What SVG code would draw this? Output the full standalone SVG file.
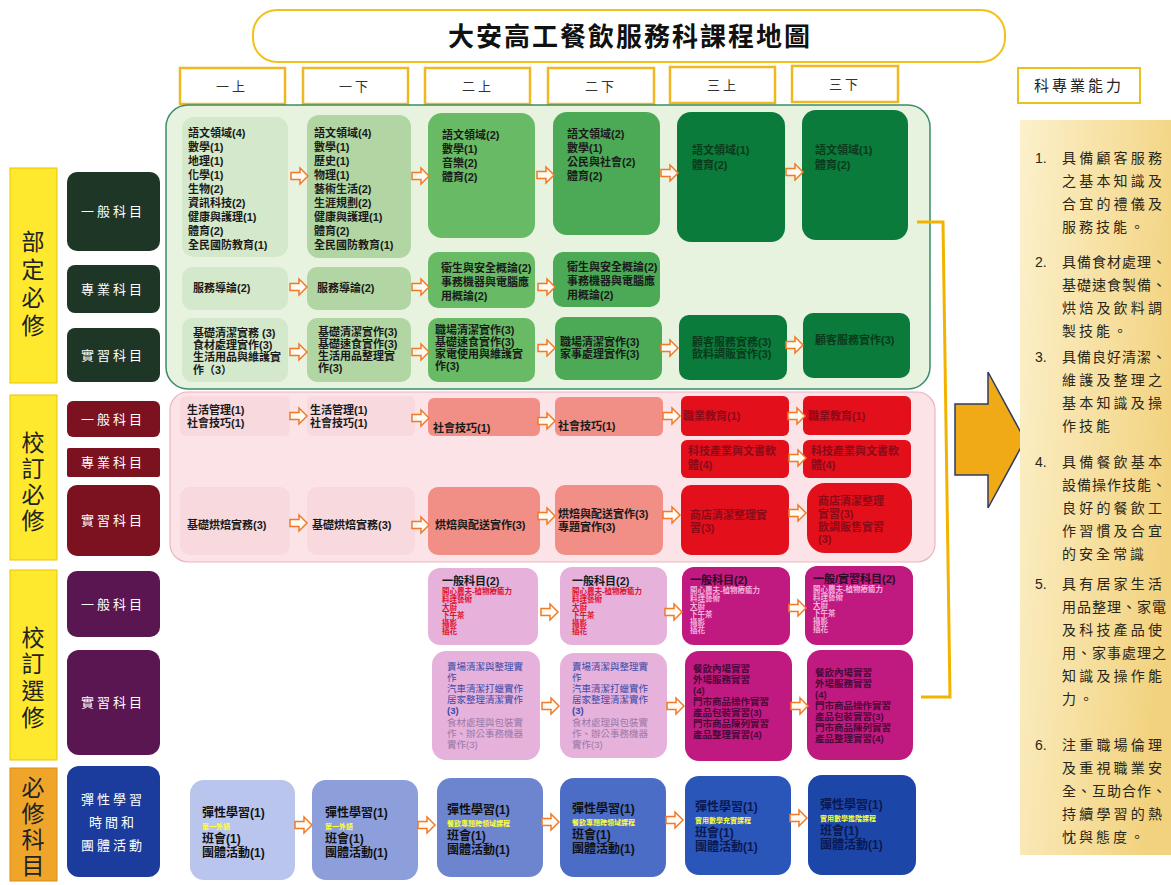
<svg xmlns="http://www.w3.org/2000/svg" xmlns:xlink="http://www.w3.org/1999/xlink" width="1171" height="885" viewBox="0 0 1171 885">
<defs>
<style>
text{font-family:"Liberation Sans","Noto Sans CJK TC",sans-serif;}
.cjk{font-family:"Noto Sans CJK TC",sans-serif;}
.hd{fill:#fff;stroke:#f0b820;stroke-width:2.5;}
.hdt{font-size:13px;fill:#333;text-anchor:middle;letter-spacing:3px;}
.vl{fill:#ffe92e;stroke:#e9c400;stroke-width:1;}
.vlt{font-size:23px;fill:#222;text-anchor:middle;}
.lb{font-size:13px;fill:#fff;text-anchor:middle;letter-spacing:3px;}
.b{font-size:11px;font-weight:bold;fill:#1a1a1a;}
.bd5{font-size:11px;font-weight:bold;fill:#0a3a1c;}
.rd{font-size:11px;font-weight:bold;fill:#8a0a18;}
.pt{font-size:7.5px;fill:#e0102a;font-weight:bold;}
.pl{font-size:7.5px;fill:#f6b0dc;font-weight:bold;}
.pb{font-size:9.5px;fill:#3b4aa8;}
.pg{font-size:9.5px;fill:#9a78a8;}
.pd{font-size:9.5px;fill:#4a0838;font-weight:bold;}
.bl{font-size:12px;font-weight:bold;fill:#111;}
.bln{font-size:12px;font-weight:bold;fill:#0a1850;}
.yl{font-size:7px;font-weight:bold;fill:#ffff3a;}
.rp{font-size:14px;fill:#2a2618;}
</style>
<path id="arr" d="M0,-3.5 H9 V-8 L17,0 L9,8 V3.5 H0 Z" fill="#fffaf2" stroke="#f07a28" stroke-width="1.5" stroke-linejoin="miter"/>
<linearGradient id="gold" x1="0" y1="0" x2="1" y2="0.3">
<stop offset="0" stop-color="#fcf1cc"/>
<stop offset="1" stop-color="#f2d27e"/>
</linearGradient>
</defs>
<rect width="1171" height="885" fill="#fff"/>

<g id="title">
<rect x="253" y="10" width="752" height="52" rx="24" fill="#fff" stroke="#f2c21c" stroke-width="2"/>
<text x="630" y="46" class="cjk" font-size="26" font-weight="bold" fill="#111" text-anchor="middle" letter-spacing="2">大安高工餐飲服務科課程地圖</text>
</g>

<g id="headers">
<rect class="hd" x="180" y="68" width="105" height="36"/><text class="hdt" x="232" y="91">一上</text>
<rect class="hd" x="303" y="68" width="105" height="36"/><text class="hdt" x="355" y="91">一下</text>
<rect class="hd" x="425" y="68" width="105" height="36"/><text class="hdt" x="478" y="91">二上</text>
<rect class="hd" x="548" y="68" width="106" height="36"/><text class="hdt" x="601" y="91">二下</text>
<rect class="hd" x="670" y="67" width="105" height="36"/><text class="hdt" x="723" y="90">三上</text>
<rect class="hd" x="792" y="66" width="106" height="36"/><text class="hdt" x="845" y="89">三下</text>
</g>

<g id="row-labels">
<rect class="vl" x="10" y="168" width="47" height="215"/>
<text class="vlt" x="33" y="250">部</text><text class="vlt" x="33" y="278">定</text><text class="vlt" x="33" y="306">必</text><text class="vlt" x="33" y="334">修</text>
<rect class="vl" x="10" y="395" width="47" height="165"/>
<text class="vlt" x="33" y="451">校</text><text class="vlt" x="33" y="477">訂</text><text class="vlt" x="33" y="503">必</text><text class="vlt" x="33" y="529">修</text>
<rect class="vl" x="10" y="570" width="47" height="190"/>
<text class="vlt" x="33" y="646">校</text><text class="vlt" x="33" y="672">訂</text><text class="vlt" x="33" y="699">選</text><text class="vlt" x="33" y="726">修</text>
<rect x="10" y="768" width="47" height="113" fill="#eea52a" stroke="#d98c10" stroke-width="1"/>
<text class="vlt" x="33" y="796">必</text><text class="vlt" x="33" y="822">修</text><text class="vlt" x="33" y="848">科</text><text class="vlt" x="33" y="874">目</text>

<rect x="67" y="172" width="93" height="79" rx="10" fill="#1e3626"/><text class="lb" x="113" y="216">一般科目</text>
<rect x="67" y="265" width="93" height="48" rx="8" fill="#1e3626"/><text class="lb" x="113" y="294">專業科目</text>
<rect x="67" y="328" width="93" height="54" rx="8" fill="#1e3626"/><text class="lb" x="113" y="360">實習科目</text>
<rect x="67" y="401" width="93" height="36" rx="6" fill="#7c1220"/><text class="lb" x="113" y="424">一般科目</text>
<rect x="67" y="448" width="93" height="29" rx="2" fill="#7c1220"/><text class="lb" x="113" y="467">專業科目</text>
<rect x="67" y="485" width="93" height="71" rx="10" fill="#7c1220"/><text class="lb" x="113" y="525">實習科目</text>
<rect x="67" y="571" width="93" height="66" rx="10" fill="#5a1650"/><text class="lb" x="113" y="609">一般科目</text>
<rect x="67" y="650" width="93" height="105" rx="12" fill="#5a1650"/><text class="lb" x="113" y="707">實習科目</text>
<rect x="67" y="766" width="93" height="111" rx="12" fill="#1b3c9c"/>
<text class="lb" x="113" y="804">彈性學習</text><text class="lb" x="113" y="827">時間和</text><text class="lb" x="113" y="850">團體活動</text>
</g>

<g id="group-bodingbixiu">
<rect x="166" y="105" width="764" height="284" rx="22" fill="#e7f3df" stroke="#3a8c6c" stroke-width="1.5"/>
</g>
<g id="group-xiaodingbixiu">
<rect x="170" y="392" width="765" height="170" rx="18" fill="#fbe3e7" stroke="#e9b6be" stroke-width="1.2"/>
</g>

<g id="g-gen-1"><rect x="182" y="117" width="106" height="140" rx="12" fill="#d4e9cb"/>
<text class="b" x="188" y="137">語文領域(4)</text><text class="b" x="188" y="151">數學(1)</text><text class="b" x="188" y="165">地理(1)</text><text class="b" x="188" y="179">化學(1)</text><text class="b" x="188" y="193">生物(2)</text><text class="b" x="188" y="207">資訊科技(2)</text><text class="b" x="188" y="221">健康與護理(1)</text><text class="b" x="188" y="235">體育(2)</text><text class="b" x="188" y="249">全民國防教育(1)</text></g>
<g id="g-gen-2"><rect x="307" y="115" width="104" height="143" rx="12" fill="#b1d6a3"/>
<text class="b" x="314" y="137">語文領域(4)</text><text class="b" x="314" y="151">數學(1)</text><text class="b" x="314" y="165">歷史(1)</text><text class="b" x="314" y="179">物理(1)</text><text class="b" x="314" y="193">藝術生活(2)</text><text class="b" x="314" y="207">生涯規劃(2)</text><text class="b" x="314" y="221">健康與護理(1)</text><text class="b" x="314" y="235">體育(2)</text><text class="b" x="314" y="249">全民國防教育(1)</text></g>
<g id="g-gen-3"><rect x="428" y="113" width="107" height="125" rx="14" fill="#69ba65"/>
<text class="b" x="442" y="139">語文領域(2)</text><text class="b" x="442" y="153">數學(1)</text><text class="b" x="442" y="167">音樂(2)</text><text class="b" x="442" y="181">體育(2)</text></g>
<g id="g-gen-4"><rect x="553" y="112" width="107" height="123" rx="14" fill="#4caa57"/>
<text class="b" x="567" y="138">語文領域(2)</text><text class="b" x="567" y="152">數學(1)</text><text class="b" x="567" y="166">公民與社會(2)</text><text class="b" x="567" y="180">體育(2)</text></g>
<g id="g-gen-5"><rect x="677" y="112" width="108" height="130" rx="14" fill="#0b7b3b"/>
<text class="bd5" x="692" y="154">語文領域(1)</text><text class="bd5" x="692" y="169">體育(2)</text></g>
<g id="g-gen-6"><rect x="802" y="110" width="106" height="130" rx="14" fill="#0b7b3b"/>
<text class="bd5" x="815" y="154">語文領域(1)</text><text class="bd5" x="815" y="169">體育(2)</text></g>

<g id="g-pro-1"><rect x="182" y="267" width="106" height="43" rx="10" fill="#d4e9cb"/><text class="b" x="193" y="292">服務導論(2)</text></g>
<g id="g-pro-2"><rect x="307" y="267" width="104" height="43" rx="10" fill="#b1d6a3"/><text class="b" x="317" y="292">服務導論(2)</text></g>
<g id="g-pro-3"><rect x="428" y="252" width="107" height="56" rx="10" fill="#69ba65"/>
<text class="b" x="441" y="272">衛生與安全概論(2)</text><text class="b" x="441" y="286">事務機器與電腦應</text><text class="b" x="441" y="300">用概論(2)</text></g>
<g id="g-pro-4"><rect x="553" y="252" width="107" height="55" rx="10" fill="#4caa57"/>
<text class="b" x="567" y="271">衛生與安全概論(2)</text><text class="b" x="567" y="285">事務機器與電腦應</text><text class="b" x="567" y="299">用概論(2)</text></g>

<g id="g-prac-1"><rect x="182" y="318" width="106" height="64" rx="10" fill="#d4e9cb"/>
<text class="b" x="193" y="337">基礎清潔實務 (3)</text><text class="b" x="193" y="349">食材處理實作(3)</text><text class="b" x="193" y="361">生活用品與維護實</text><text class="b" x="193" y="374">作（3）</text></g>
<g id="g-prac-2"><rect x="307" y="318" width="104" height="64" rx="10" fill="#b1d6a3"/>
<text class="b" x="318" y="336">基礎清潔實作(3)</text><text class="b" x="318" y="348">基礎速食實作(3)</text><text class="b" x="318" y="360">生活用品整理實</text><text class="b" x="318" y="372">作(3)</text></g>
<g id="g-prac-3"><rect x="428" y="318" width="107" height="64" rx="10" fill="#69ba65"/>
<text class="b" x="435" y="334">職場清潔實作(3)</text><text class="b" x="435" y="346">基礎速食實作(3)</text><text class="b" x="435" y="358">家電使用與維護實</text><text class="b" x="435" y="370">作(3)</text></g>
<g id="g-prac-4"><rect x="555" y="317" width="107" height="63" rx="10" fill="#4caa57"/>
<text class="b" x="560" y="346">職場清潔實作(3)</text><text class="b" x="560" y="358">家事處理實作(3)</text></g>
<g id="g-prac-5"><rect x="679" y="315" width="108" height="65" rx="10" fill="#0b7b3b"/>
<text class="bd5" x="692" y="346">顧客服務實務(3)</text><text class="bd5" x="692" y="358">飲料調販實作(3)</text></g>
<g id="g-prac-6"><rect x="803" y="313" width="107" height="65" rx="10" fill="#0b7b3b"/>
<text class="bd5" x="815" y="344">顧客服務實作(3)</text></g>

<g id="r-gen-1"><rect x="180" y="396" width="110" height="40" rx="6" fill="#f7d9de"/>
<text class="b" x="187" y="414">生活管理(1)</text><text class="b" x="187" y="427">社會技巧(1)</text></g>
<g id="r-gen-2"><rect x="307" y="396" width="108" height="40" rx="6" fill="#f7d9de"/>
<text class="b" x="310" y="414">生活管理(1)</text><text class="b" x="310" y="427">社會技巧(1)</text></g>
<g id="r-gen-3"><rect x="428" y="398" width="112" height="38" rx="6" fill="#f18f86"/><text class="b" x="433" y="432">社會技巧(1)</text></g>
<g id="r-gen-4"><rect x="555" y="397" width="108" height="39" rx="6" fill="#f18f86"/><text class="b" x="558" y="430">社會技巧(1)</text></g>
<g id="r-gen-5"><rect x="681" y="396" width="108" height="40" rx="6" fill="#e3101c"/><text class="rd" x="683" y="420">職業教育(1)</text></g>
<g id="r-gen-6"><rect x="803" y="396" width="108" height="39" rx="6" fill="#e3101c"/><text class="rd" x="808" y="420">職業教育(1)</text></g>
<g id="r-pro-5"><rect x="681" y="440" width="108" height="38" rx="6" fill="#e3101c"/>
<text class="rd" x="688" y="455">科技產業與文書軟</text><text class="rd" x="688" y="469">體(4)</text></g>
<g id="r-pro-6"><rect x="803" y="440" width="108" height="38" rx="6" fill="#e3101c"/>
<text class="rd" x="811" y="455">科技產業與文書軟</text><text class="rd" x="811" y="469">體(4)</text></g>
<g id="r-prac-1"><rect x="180" y="487" width="110" height="68" rx="10" fill="#f7d9de"/><text class="b" x="187" y="529">基礎烘焙實務(3)</text></g>
<g id="r-prac-2"><rect x="307" y="487" width="108" height="68" rx="10" fill="#f7d9de"/><text class="b" x="312" y="529">基礎烘焙實務(3)</text></g>
<g id="r-prac-3"><rect x="428" y="487" width="112" height="68" rx="10" fill="#f18f86"/><text class="b" x="435" y="529">烘焙與配送實作(3)</text></g>
<g id="r-prac-4"><rect x="555" y="485" width="108" height="70" rx="10" fill="#f18f86"/>
<text class="b" x="558" y="518">烘焙與配送實作(3)</text><text class="b" x="558" y="531">專題實作(3)</text></g>
<g id="r-prac-5"><rect x="681" y="485" width="108" height="70" rx="10" fill="#e3101c"/>
<text class="rd" x="690" y="519">商店清潔整理實</text><text class="rd" x="690" y="532">習(3)</text></g>
<g id="r-prac-6"><rect x="807" y="483" width="105" height="70" rx="18" fill="#e3101c"/>
<text class="rd" x="818" y="505">商店清潔整理</text><text class="rd" x="818" y="518">實習(3)</text><text class="rd" x="818" y="531">飲調販售實習</text><text class="rd" x="818" y="543">(3)</text></g>

<g id="p-gen-3"><rect x="428" y="568" width="110" height="77" rx="12" fill="#e6b2db"/>
<text class="b" x="442" y="585">一般科目(2)</text>
<text class="pt" x="442" y="594">開心農夫-植物療癒力</text><text class="pt" x="442" y="602">料理藝術</text><text class="pt" x="442" y="610">大廚</text><text class="pt" x="442" y="618">下午茶</text><text class="pt" x="442" y="626">攝影</text><text class="pt" x="442" y="634">插花</text></g>
<g id="p-gen-4"><rect x="560" y="567" width="107" height="78" rx="12" fill="#e6b2db"/>
<text class="b" x="572" y="585">一般科目(2)</text>
<text class="pt" x="572" y="594">開心農夫-植物療癒力</text><text class="pt" x="572" y="602">料理藝術</text><text class="pt" x="572" y="610">大廚</text><text class="pt" x="572" y="618">下午茶</text><text class="pt" x="572" y="626">攝影</text><text class="pt" x="572" y="634">插花</text></g>
<g id="p-gen-5"><rect x="682" y="567" width="108" height="78" rx="12" fill="#c01a80"/>
<text class="b" x="690" y="584" style="fill:#2a0a28">一般科目(2)</text>
<text class="pl" x="690" y="593">開心農夫-植物療癒力</text><text class="pl" x="690" y="601">料理藝術</text><text class="pl" x="690" y="609">大廚</text><text class="pl" x="690" y="617">下午茶</text><text class="pl" x="690" y="625">攝影</text><text class="pl" x="690" y="633">插花</text></g>
<g id="p-gen-6"><rect x="805" y="566" width="108" height="79" rx="12" fill="#c01a80"/>
<text class="b" x="813" y="583" style="fill:#2a0a28">一般/實習科目(2)</text>
<text class="pl" x="813" y="592">開心農夫-植物療癒力</text><text class="pl" x="813" y="600">料理藝術</text><text class="pl" x="813" y="608">大廚</text><text class="pl" x="813" y="616">下午茶</text><text class="pl" x="813" y="624">攝影</text><text class="pl" x="813" y="632">插花</text></g>

<g id="p-prac-3"><rect x="432" y="651" width="108" height="109" rx="14" fill="#e6b2db"/>
<text class="pb" x="447" y="670">賣場清潔與整理實</text><text class="pb" x="447" y="681">作</text><text class="pb" x="447" y="692">汽車清潔打蠟實作</text><text class="pb" x="447" y="703">居家整理清潔實作</text><text class="pb" x="447" y="714" font-weight="bold">(3)</text>
<text class="pg" x="447" y="726">食材處理與包裝實</text><text class="pg" x="447" y="737">作、辦公事務機器</text><text class="pg" x="447" y="748">實作(3)</text></g>
<g id="p-prac-4"><rect x="560" y="653" width="107" height="105" rx="14" fill="#e6b2db"/>
<text class="pb" x="572" y="670">賣場清潔與整理實</text><text class="pb" x="572" y="681">作</text><text class="pb" x="572" y="692">汽車清潔打蠟實作</text><text class="pb" x="572" y="703">居家整理清潔實作</text><text class="pb" x="572" y="714" font-weight="bold">(3)</text>
<text class="pg" x="572" y="726">食材處理與包裝實</text><text class="pg" x="572" y="737">作、辦公事務機器</text><text class="pg" x="572" y="748">實作(3)</text></g>
<g id="p-prac-5"><rect x="685" y="651" width="107" height="110" rx="14" fill="#c01a80"/>
<text class="pd" x="693" y="672">餐飲內場實習</text><text class="pd" x="693" y="683">外場服務實習</text><text class="pd" x="693" y="694">(4)</text><text class="pd" x="693" y="705">門市商品操作實習</text><text class="pd" x="693" y="716">產品包裝實習(3)</text><text class="pd" x="693" y="727">門市商品陳列實習</text><text class="pd" x="693" y="738">產品整理實習(4)</text></g>
<g id="p-prac-6"><rect x="807" y="650" width="106" height="110" rx="14" fill="#c01a80"/>
<text class="pd" x="815" y="676">餐飲內場實習</text><text class="pd" x="815" y="687">外場服務實習</text><text class="pd" x="815" y="698">(4)</text><text class="pd" x="815" y="709">門市商品操作實習</text><text class="pd" x="815" y="720">產品包裝實習(3)</text><text class="pd" x="815" y="731">門市商品陳列實習</text><text class="pd" x="815" y="742">產品整理實習(4)</text></g>

<g id="b-1"><rect x="190" y="780" width="105" height="100" rx="14" fill="#b9c5ec"/>
<text class="bl" x="202" y="817">彈性學習(1)</text><text class="yl" x="202" y="829">第一外語</text><text class="bl" x="202" y="843">班會(1)</text><text class="bl" x="202" y="857">團體活動(1)</text></g>
<g id="b-2"><rect x="312" y="780" width="106" height="100" rx="14" fill="#8d9fdb"/>
<text class="bl" x="325" y="817">彈性學習(1)</text><text class="yl" x="325" y="829">第一外語</text><text class="bl" x="325" y="843">班會(1)</text><text class="bl" x="325" y="857">團體活動(1)</text></g>
<g id="b-3"><rect x="437" y="778" width="106" height="99" rx="14" fill="#6d84cf"/>
<text class="bl" x="447" y="814">彈性學習(1)</text><text class="yl" x="447" y="826">餐飲專題跨領域課程</text><text class="bl" x="447" y="840">班會(1)</text><text class="bl" x="447" y="854">團體活動(1)</text></g>
<g id="b-4"><rect x="560" y="778" width="106" height="99" rx="14" fill="#4b6dc6"/>
<text class="bl" x="572" y="813">彈性學習(1)</text><text class="yl" x="572" y="825">餐飲專題跨領域課程</text><text class="bl" x="572" y="839">班會(1)</text><text class="bl" x="572" y="853">團體活動(1)</text></g>
<g id="b-5"><rect x="685" y="776" width="106" height="99" rx="14" fill="#2b56b9"/>
<text class="bln" x="695" y="811">彈性學習(1)</text><text class="yl" x="695" y="823">實用數學充實課程</text><text class="bln" x="695" y="837">班會(1)</text><text class="bln" x="695" y="851">團體活動(1)</text></g>
<g id="b-6"><rect x="808" y="775" width="108" height="100" rx="14" fill="#1c46a8"/>
<text class="bln" x="820" y="809">彈性學習(1)</text><text class="yl" x="820" y="821">實用數學進階課程</text><text class="bln" x="820" y="835">班會(1)</text><text class="bln" x="820" y="849">團體活動(1)</text></g>

<g id="connectors">
<use href="#arr" x="291" y="176"/><use href="#arr" x="412" y="176"/><use href="#arr" x="537" y="175"/><use href="#arr" x="661" y="173"/><use href="#arr" x="786" y="172"/>
<use href="#arr" x="290" y="287"/><use href="#arr" x="412" y="287"/><use href="#arr" x="538" y="287"/>
<use href="#arr" x="290" y="352"/><use href="#arr" x="412" y="352"/><use href="#arr" x="538" y="348"/><use href="#arr" x="661" y="348"/><use href="#arr" x="786" y="345"/>
<use href="#arr" x="290" y="416"/><use href="#arr" x="412" y="418"/><use href="#arr" x="538" y="421"/><use href="#arr" x="663" y="416"/><use href="#arr" x="788" y="416"/>
<use href="#arr" x="789" y="458"/>
<use href="#arr" x="290" y="523"/><use href="#arr" x="412" y="525"/><use href="#arr" x="538" y="516"/><use href="#arr" x="663" y="515"/><use href="#arr" x="789" y="513"/>
<use href="#arr" x="541" y="612"/><use href="#arr" x="665" y="612"/><use href="#arr" x="789" y="608"/>
<use href="#arr" x="542" y="706"/><use href="#arr" x="667" y="706"/><use href="#arr" x="791" y="706"/>
<use href="#arr" x="295" y="825"/><use href="#arr" x="418" y="825"/><use href="#arr" x="542" y="822"/><use href="#arr" x="666" y="820"/><use href="#arr" x="790" y="818"/>
<path d="M917,222 H943 L950,697 H921" fill="none" stroke="#f2b300" stroke-width="3"/>
<path d="M955,404 H988 V372 L1025,440 L988,508 V475 H955 Z" fill="#f0aa16" stroke="#2c3a66" stroke-width="1.5"/>
</g>

<g id="abilities">
<rect x="1018" y="68" width="122" height="35" fill="#fff" stroke="#e8c21c" stroke-width="2"/>
<text class="cjk" x="1079" y="91" font-size="15" fill="#222" text-anchor="middle" letter-spacing="3">科專業能力</text>
<rect x="1020" y="120" width="160" height="735" fill="url(#gold)"/>
<text class="rp" x="1035" y="163">1.</text>
<text class="rp" x="1062" y="163" textLength="100">具備顧客服務</text><text class="rp" x="1062" y="186" textLength="100">之基本知識及</text><text class="rp" x="1062" y="209" textLength="100">合宜的禮儀及</text><text class="rp" x="1062" y="232" letter-spacing="3">服務技能。</text>
<text class="rp" x="1035" y="267">2.</text>
<text class="rp" x="1062" y="267" textLength="104">具備食材處理、</text><text class="rp" x="1062" y="290" textLength="104">基礎速食製備、</text><text class="rp" x="1062" y="313" textLength="100">烘焙及飲料調</text><text class="rp" x="1062" y="336" letter-spacing="3">製技能。</text>
<text class="rp" x="1035" y="362">3.</text>
<text class="rp" x="1062" y="362" textLength="104">具備良好清潔、</text><text class="rp" x="1062" y="385" textLength="100">維護及整理之</text><text class="rp" x="1062" y="408" textLength="100">基本知識及操</text><text class="rp" x="1062" y="431" letter-spacing="3">作技能</text>
<text class="rp" x="1035" y="467">4.</text>
<text class="rp" x="1062" y="467" textLength="100">具備餐飲基本</text><text class="rp" x="1062" y="490" textLength="104">設備操作技能、</text><text class="rp" x="1062" y="513" textLength="100">良好的餐飲工</text><text class="rp" x="1062" y="536" textLength="100">作習慣及合宜</text><text class="rp" x="1062" y="559" letter-spacing="3">的安全常識</text>
<text class="rp" x="1035" y="589">5.</text>
<text class="rp" x="1062" y="589" textLength="100">具有居家生活</text><text class="rp" x="1062" y="612" textLength="104">用品整理、家電</text><text class="rp" x="1062" y="635" textLength="100">及科技產品使</text><text class="rp" x="1062" y="658" textLength="104">用、家事處理之</text><text class="rp" x="1062" y="681" textLength="100">知識及操作能</text><text class="rp" x="1062" y="704" letter-spacing="3">力。</text>
<text class="rp" x="1035" y="750">6.</text>
<text class="rp" x="1062" y="750" textLength="100">注重職場倫理</text><text class="rp" x="1062" y="773" textLength="100">及重視職業安</text><text class="rp" x="1062" y="796" textLength="104">全、互助合作、</text><text class="rp" x="1062" y="819" textLength="100">持續學習的熱</text><text class="rp" x="1062" y="842" letter-spacing="3">忱與態度。</text>
</g>
</svg>
